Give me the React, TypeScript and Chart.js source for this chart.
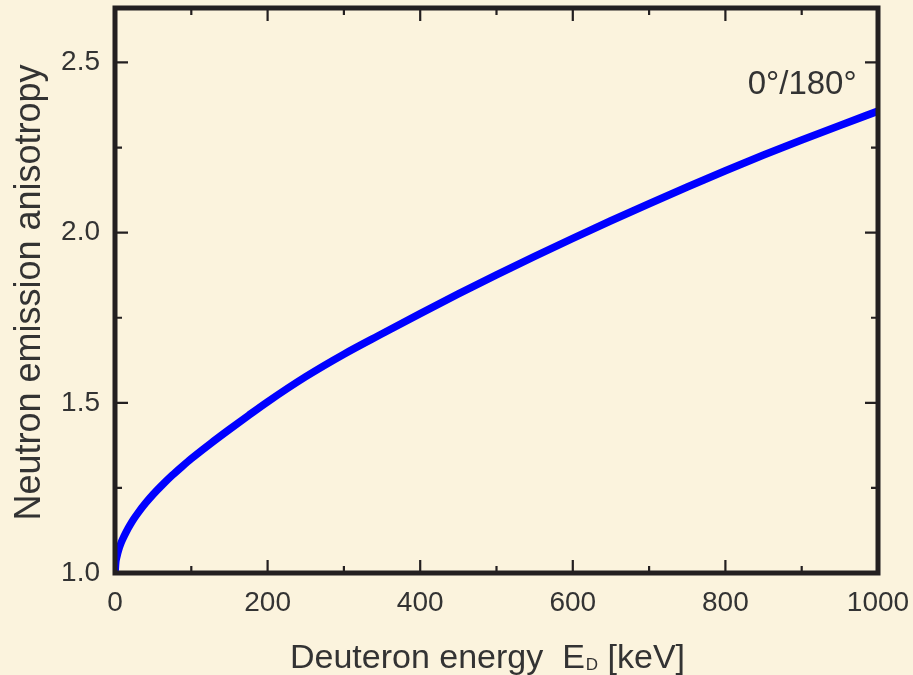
import React, { useEffect, useRef } from "react";
import { Chart, registerables } from "chart.js";

Chart.register(...registerables);

// Deuteron energy E_D [keV]
const energyKeV = [0, 1, 2.5, 5, 7.5, 10, 15, 20, 25, 30, 40, 50, 62.5, 75, 87.5, 100, 125, 150, 175, 200, 250, 300, 350, 400, 450, 500, 550, 600, 650, 700, 750, 800, 850, 900, 950, 1000];
// Neutron emission anisotropy 0°/180°
const anisotropy = [1.0, 1.031, 1.049, 1.07, 1.086, 1.099, 1.122, 1.142, 1.16, 1.176, 1.205, 1.231, 1.26, 1.287, 1.312, 1.336, 1.38, 1.422, 1.463, 1.503, 1.577, 1.643, 1.703, 1.762, 1.82, 1.876, 1.93, 1.983, 2.035, 2.085, 2.134, 2.182, 2.228, 2.272, 2.315, 2.357];

const xMajorTicks = [0, 200, 400, 600, 800, 1000];
const xMinorTicks = [100, 300, 500, 700, 900];
const yMajorTicks = [1.0, 1.5, 2.0, 2.5];
const yMinorTicks = [1.25, 1.75, 2.25];

const seriesLabel = "0°/180°";
const xTitleMain = "Deuteron energy  E";
const xTitleSub = "D";
const xTitleTail = " [keV]";
const yTitle = "Neutron emission anisotropy";

const BG = "#fbf3dd";
const INK = "#231f20";
const TEXT = "#333333";
const FONT = "'Liberation Sans', Arial, Helvetica, sans-serif";

const decorPlugin = {
  id: "decor",
  beforeDraw(chart: any) {
    const { ctx, width, height } = chart;
    ctx.save();
    ctx.fillStyle = BG;
    ctx.fillRect(0, 0, width, height);
    ctx.restore();
  },
  afterDraw(chart: any) {
    const { ctx, chartArea } = chart;
    const xs = chart.scales.x;
    const ys = chart.scales.y;
    const { left, right, top, bottom } = chartArea;
    ctx.save();
    // ticks (inward, all four sides)
    ctx.strokeStyle = INK;
    ctx.lineWidth = 2.2;
    ctx.lineCap = "butt";
    const drawX = (vals: number[], len: number) => {
      vals.forEach((v) => {
        const px = xs.getPixelForValue(v);
        ctx.beginPath();
        ctx.moveTo(px, bottom);
        ctx.lineTo(px, bottom - len);
        ctx.moveTo(px, top);
        ctx.lineTo(px, top + len);
        ctx.stroke();
      });
    };
    const drawY = (vals: number[], len: number) => {
      vals.forEach((v) => {
        const py = ys.getPixelForValue(v);
        ctx.beginPath();
        ctx.moveTo(left, py);
        ctx.lineTo(left + len, py);
        ctx.moveTo(right, py);
        ctx.lineTo(right - len, py);
        ctx.stroke();
      });
    };
    drawX(xMajorTicks, 13);
    drawX(xMinorTicks, 7);
    drawY(yMajorTicks, 13);
    drawY(yMinorTicks, 7);
    // frame
    ctx.lineWidth = 5;
    ctx.lineJoin = "miter";
    ctx.strokeRect(left, top, right - left, bottom - top);

    // annotation
    ctx.fillStyle = TEXT;
    ctx.font = `33px ${FONT}`;
    ctx.textAlign = "right";
    ctx.textBaseline = "alphabetic";
    ctx.fillText(seriesLabel, xs.getPixelForValue(972), ys.getPixelForValue(2.406));

    // x title with subscript
    const mainFont = `34px ${FONT}`;
    const subFont = `17px ${FONT}`;
    ctx.font = mainFont;
    const w1 = ctx.measureText(xTitleMain).width;
    const w3 = ctx.measureText(xTitleTail).width;
    ctx.font = subFont;
    const w2 = ctx.measureText(xTitleSub).width;
    const total = w1 + w2 + w3 + 1;
    const cx = (left + right) / 2 - 9;
    const x0 = cx - total / 2;
    const base = 668;
    ctx.textAlign = "left";
    ctx.font = mainFont;
    ctx.fillText(xTitleMain, x0, base);
    ctx.font = subFont;
    ctx.fillText(xTitleSub, x0 + w1 + 1, base + 2);
    ctx.font = mainFont;
    ctx.fillText(xTitleTail, x0 + w1 + w2 + 1, base);

    // y title
    ctx.save();
    ctx.translate(40, (top + bottom) / 2 + 2);
    ctx.rotate(-Math.PI / 2);
    ctx.font = `36px ${FONT}`;
    ctx.textAlign = "center";
    ctx.textBaseline = "alphabetic";
    ctx.fillText(yTitle, 0, 0);
    ctx.restore();

    ctx.restore();
  },
};

export default function App() {
  const ref = useRef<HTMLCanvasElement | null>(null);
  useEffect(() => {
    document.body.style.margin = "0";
    document.body.style.background = BG;
    const canvas = ref.current;
    if (!canvas) return;
    const zeroPad = (s: any) => {
      s.paddingTop = 0;
      s.paddingBottom = 0;
      s.paddingLeft = 0;
      s.paddingRight = 0;
    };
    const chart = new Chart(canvas, {
      type: "line",
      data: {
        datasets: [
          {
            label: seriesLabel,
            data: energyKeV.map((e, i) => ({ x: e, y: anisotropy[i] })),
            borderColor: "#0000ff",
            borderWidth: 7.5,
            pointRadius: 0,
            fill: false,
            cubicInterpolationMode: "monotone",
            clip: 0,
          } as any,
        ],
      },
      options: {
        animation: false,
        responsive: false,
        maintainAspectRatio: false,
        devicePixelRatio: 1,
        layout: { padding: { top: 8, right: 35, left: 0, bottom: 0 } },
        plugins: { legend: { display: false }, tooltip: { enabled: false }, title: { display: false } },
        scales: {
          x: {
            type: "linear",
            min: 0,
            max: 1000,
            grid: { display: false, drawTicks: false },
            border: { display: false },
            afterBuildTicks: (s: any) => {
              s.ticks = xMajorTicks.map((v) => ({ value: v }));
            },
            afterFit: (s: any) => {
              s.height = 102;
              zeroPad(s);
            },
            ticks: {
              autoSkip: false,
              maxRotation: 0,
              minRotation: 0,
              padding: 13,
              color: TEXT,
              font: { family: FONT, size: 28 },
              callback: (v: any) => String(v),
            },
          },
          y: {
            type: "linear",
            min: 1.0,
            max: 2.66,
            grid: { display: false, drawTicks: false },
            border: { display: false },
            afterBuildTicks: (s: any) => {
              s.ticks = yMajorTicks.map((v) => ({ value: v }));
            },
            afterFit: (s: any) => {
              s.width = 115;
              zeroPad(s);
            },
            ticks: {
              autoSkip: false,
              padding: 15,
              color: TEXT,
              font: { family: FONT, size: 28 },
              callback: (v: any) => Number(v).toFixed(1),
            },
          },
        },
      },
      plugins: [decorPlugin],
    });
    return () => chart.destroy();
  }, []);
  return (
    <div style={{ position: "fixed", left: 0, top: 0, width: 913, height: 675, background: BG }}>
      <canvas ref={ref} width={913} height={675} style={{ width: 913, height: 675, display: "block" }} />
    </div>
  );
}
